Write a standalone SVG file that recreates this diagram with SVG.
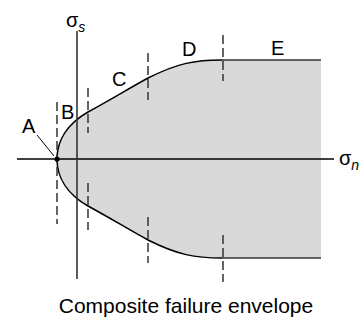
<svg xmlns="http://www.w3.org/2000/svg" width="363" height="321" viewBox="0 0 363 321">
<style>
text{font-family:"Liberation Sans",Arial,sans-serif;fill:#000}
.lbl{font-size:20px}
.dash{stroke:#333;stroke-width:1.5;stroke-dasharray:9 4;fill:none}
.ax{stroke:#000;stroke-width:1.3;fill:none}
.env{stroke:#000;stroke-width:1.5;fill:none}
</style>
<g id="envelope">
<path d="M57,159 C57,141 67,124 88,112 C110,100 128,89 148,78 C178,63 195,60 222,60 L321,60 L321,258 L222,258 C195,258 178,255 148,240 C128,229 110,218 88,206 C67,194 57,177 57,159 Z" fill="#d9d9d9" stroke="none"/>
<path class="env" d="M57,159 C57,141 67,124 88,112 C110,100 128,89 148,78 C178,63 195,60 222,60"/>
<path class="env" d="M57,159 C57,177 67,194 88,206 C110,218 128,229 148,240 C178,255 195,258 222,258"/>
<path d="M222,60 L321,60 M222,258 L321,258" stroke="#333" stroke-width="1.6" fill="none"/>
</g>
<g id="axes">
<line class="ax" x1="17" y1="159" x2="334" y2="159"/>
<line x1="77" y1="31" x2="77" y2="279" stroke="#333" stroke-width="1.6"/>
<text x="339" y="165" class="lbl">σ<tspan font-size="14" font-style="italic" dy="5">n</tspan></text>
<text x="66" y="27" class="lbl">σ<tspan font-size="14" font-style="italic" dy="5">s</tspan></text>
</g>
<g id="boundaries">
<line class="dash" x1="57" y1="102" x2="57" y2="224"/>
<line class="dash" x1="88" y1="88" x2="88" y2="133"/>
<line class="dash" x1="88" y1="183" x2="88" y2="230"/>
<line class="dash" x1="148" y1="53" x2="148" y2="100"/>
<line class="dash" x1="148" y1="217" x2="148" y2="263"/>
<line class="dash" x1="223" y1="35" x2="223" y2="81"/>
<line class="dash" x1="223" y1="235" x2="223" y2="282"/>
</g>
<g id="pointA">
<circle cx="57" cy="159" r="2.6" fill="#000"/>
<line x1="37" y1="135" x2="54" y2="156" stroke="#000" stroke-width="1"/>
<text x="22" y="133" class="lbl">A</text>
</g>
<g id="labels">
<text x="61" y="119" class="lbl">B</text>
<text x="112" y="86" class="lbl">C</text>
<text x="182" y="56" class="lbl">D</text>
<text x="271" y="55" class="lbl">E</text>
</g>
<text x="186" y="313" font-size="21" text-anchor="middle">Composite failure envelope</text>
</svg>
